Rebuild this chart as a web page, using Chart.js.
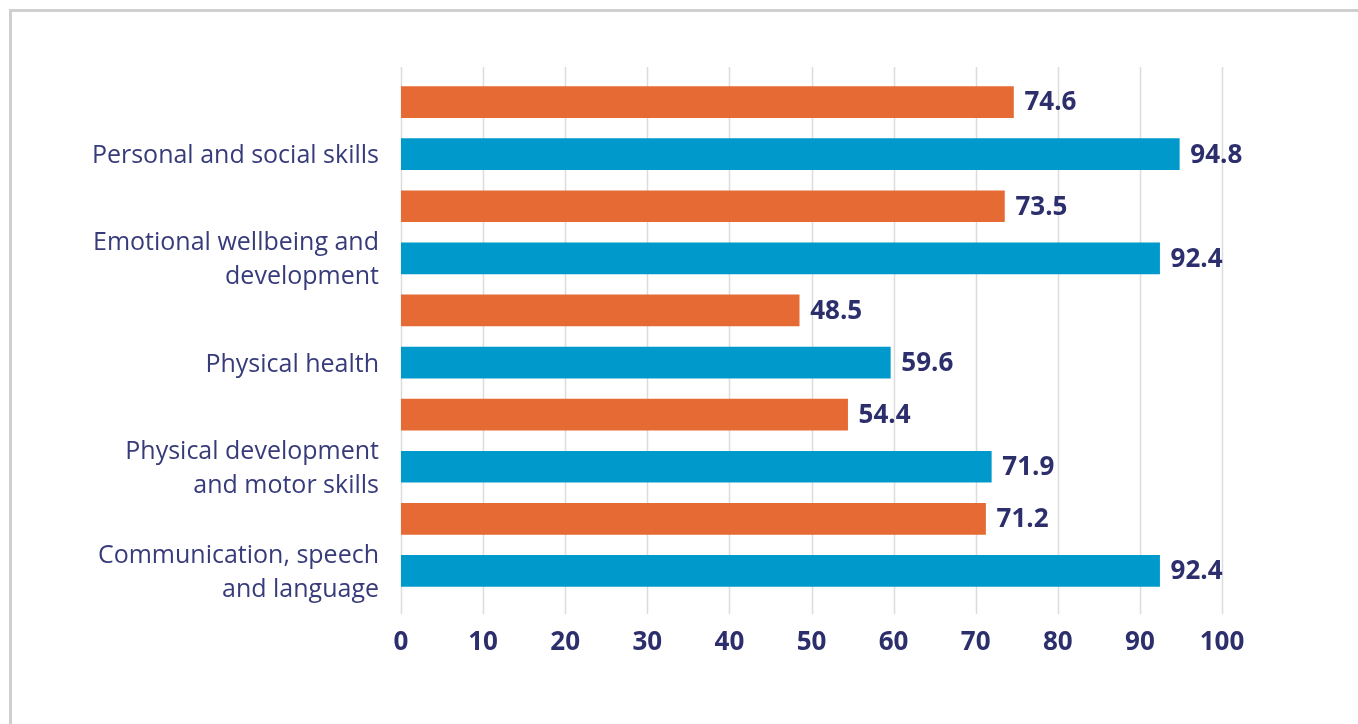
<!DOCTYPE html>
<html>
<head>
<meta charset="utf-8">
<script src="https://cdn.jsdelivr.net/npm/chart.js@4.4.0/dist/chart.umd.min.js"></script>
<style>
  body { margin: 0; background: #fff; overflow: hidden; }
  #frame { position: absolute; left: 9px; top: 9px; width: 2000px; height: 2000px; border: 3px solid #cfcfcf; }
  #myChart { position: absolute; left: 0; top: 0; }
</style>
</head>
<body>
<div id="frame"></div>
<canvas id="myChart" width="1358" height="724"></canvas>
<script>
// categories, top to bottom
const categories = [
    'Personal and social skills',
    ['Emotional wellbeing and', 'development'],
    'Physical health',
    ['Physical development', 'and motor skills'],
    ['Communication, speech', 'and language']
];
const orangeValues = [74.6, 73.5, 48.5, 54.4, 71.2];
const blueValues = [94.8, 92.4, 59.6, 71.9, 92.4];
const xTicks = [0, 10, 20, 30, 40, 50, 60, 70, 80, 90, 100];

const navy = '#2c2f6c';

// each category gets two rows: orange on top, blue below (label sits on the blue row)
let rowLabels = [];
let orangeRows = [];
let blueRows = [];
for (let i = 0; i < categories.length; i++) {
    rowLabels.push('');
    rowLabels.push(categories[i]);
    orangeRows.push(orangeValues[i], null);
    blueRows.push(null, blueValues[i]);
}

// gridlines run a bit above and below the plot area
const gridPlugin = {
    id: 'grid',
    beforeDatasetsDraw(chart) {
        const ctx = chart.ctx;
        const x = chart.scales.x;
        const area = chart.chartArea;
        ctx.save();
        ctx.strokeStyle = '#dcdcdc';
        ctx.lineWidth = 1.5;
        xTicks.forEach(v => {
            const px = Math.round(x.getPixelForValue(v)) + 0.5;
            ctx.beginPath();
            ctx.moveTo(px, area.top - 9);
            ctx.lineTo(px, area.bottom + 17);
            ctx.stroke();
        });
        ctx.restore();
    }
};

const valueLabels = {
    id: 'valueLabels',
    afterDatasetsDraw(chart) {
        const ctx = chart.ctx;
        ctx.save();
        ctx.font = 'bold 26px "Open Sans"';
        ctx.fillStyle = navy;
        ctx.textAlign = 'left';
        ctx.textBaseline = 'middle';
        chart.data.datasets.forEach((ds, di) => {
            chart.getDatasetMeta(di).data.forEach((bar, i) => {
                if (ds.data[i] == null) return;
                ctx.fillText(ds.data[i].toFixed(1), bar.x + 11, bar.y + 1);
            });
        });
        ctx.restore();
    }
};

let myChart = document.getElementById('myChart').getContext('2d');

let barChart = new Chart(myChart, {
    type: 'bar',
    data: {
        labels: rowLabels,
        datasets: [
            {
                label: 'Series 1',
                data: orangeRows,
                backgroundColor: '#e66a33',
                barThickness: 31
            },
            {
                label: 'Series 2',
                data: blueRows,
                backgroundColor: '#0099cc',
                barThickness: 31
            }
        ]
    },
    options: {
        indexAxis: 'y',
        responsive: false,
        animation: false,
        grouped: false,
        layout: { padding: { left: 0, right: 136, top: 76, bottom: 67 } },
        plugins: {
            legend: { display: false },
            tooltip: { enabled: false }
        },
        scales: {
            x: {
                min: 0,
                max: 100,
                afterBuildTicks: scale => { scale.ticks = xTicks.map(v => ({ value: v })); },
                afterFit: scale => { scale.height = 60; },
                grid: { display: false, drawTicks: false },
                border: { display: false },
                ticks: {
                    color: navy,
                    font: { family: 'Open Sans', size: 26, weight: 'bold' },
                    padding: 30
                }
            },
            y: {
                afterFit: scale => { scale.width = 401; },
                grid: { display: false, drawTicks: false },
                border: { display: false },
                ticks: {
                    color: '#373b7a',
                    font: { family: 'Open Sans', size: 25, lineHeight: 1.36 },
                    padding: 22,
                    labelOffset: 2,
                    autoSkip: false
                }
            }
        }
    },
    plugins: [gridPlugin, valueLabels]
});
</script>
</body>
</html>
